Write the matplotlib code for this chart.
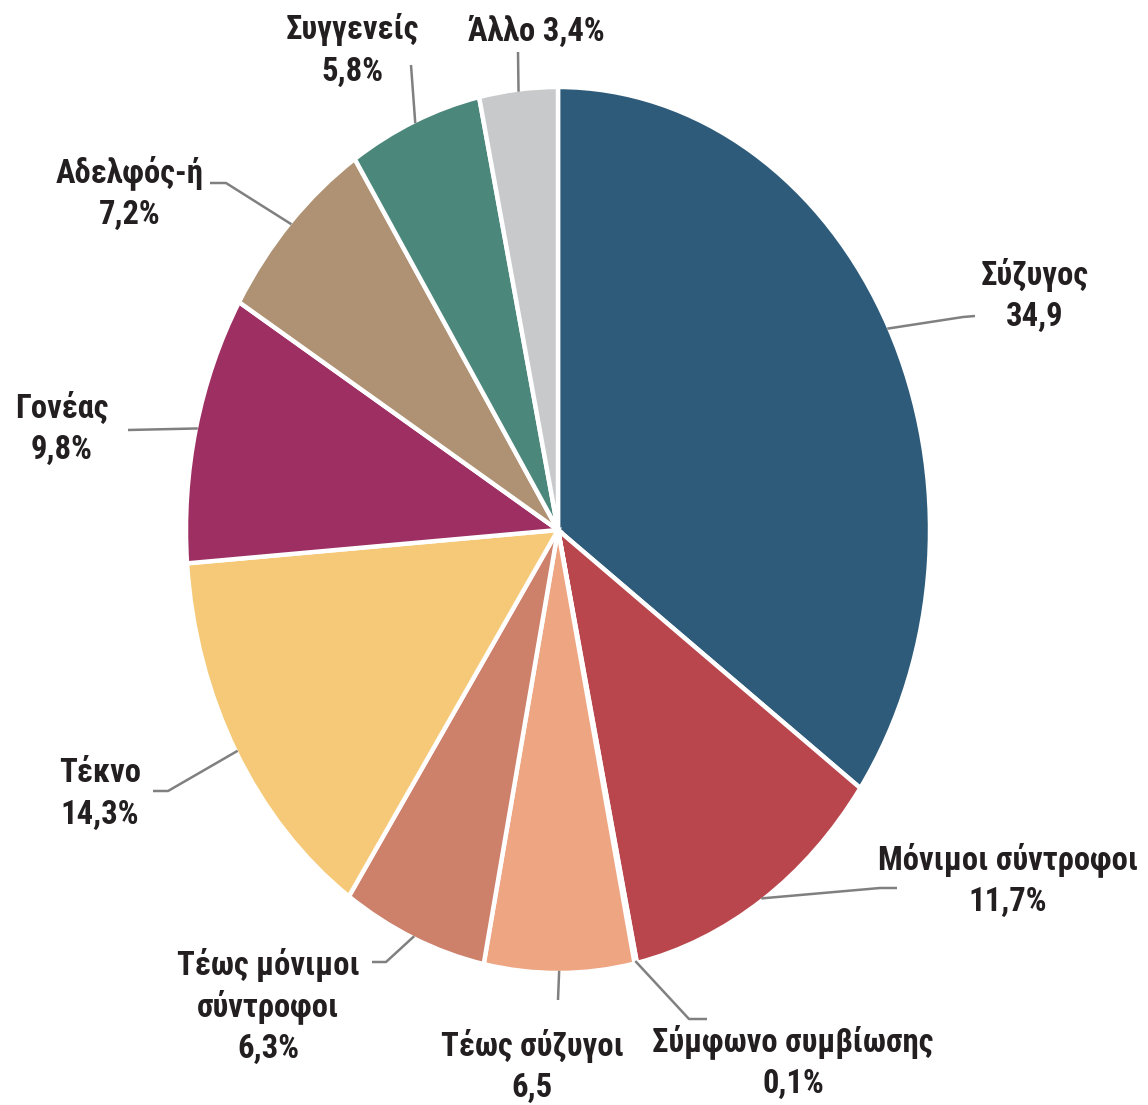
import numpy as np
import matplotlib
matplotlib.use("Agg")
import matplotlib.pyplot as plt

# ---- data ----
categories = ["Σύζυγος", "Μόνιμοι σύντροφοι", "Σύμφωνο συμβίωσης", "Τέως σύζυγοι",
              "Τέως μόνιμοι\nσύντροφοι", "Τέκνο", "Γονέας", "Αδελφός-ή", "Συγγενείς", "Άλλο"]
values = [34.9, 11.7, 0.1, 6.5, 6.3, 14.3, 9.8, 7.2, 5.8, 3.4]
value_labels = ["34,9", "11,7%", "0,1%", "6,5", "6,3%", "14,3%", "9,8%", "7,2%", "5,8%", "3,4%"]
colors = ["#2d5b79", "#b8464c", "#e8e8e8", "#eda582", "#cd806a",
          "#f5c977", "#9d2f62", "#ae9273", "#4b877b", "#c8c9cb"]

# ---- layout (pixels) ----
W, H = 1148, 1105
CX, CY, RX, RY = 558, 530, 372, 443
LINE_STEP = 42
# label centre x and centre y of first line
label_pos = [(1035, 275), (1008, 860), (793, 1042), (532, 1046), (268, 965),
             (100, 773), (62, 408), (130, 173), (352, 30), (536, 32)]
leader_pts = [[(963, 317), (975, 316)],
              [(880, 888), (897, 888)],
              [(689, 1019), (707, 1019)],
              [(558, 1000)],
              [(386, 962), (372, 962)],
              [(168, 791), (153, 791)],
              [(128, 430)],
              [(226, 183), (210, 183)],
              [(411, 65)],
              [(518, 52)]]
single_line = [False] * 9 + [True]

FONT = ["Roboto Condensed", "Roboto", "DejaVu Sans"]
TXT = "#231f20"
LINE = "#808080"

fig = plt.figure(figsize=(W / 100, H / 100), dpi=100)
ax = fig.add_axes([(CX - RX) / W, (H - CY - RY) / H, 2 * RX / W, 2 * RY / H])
wedges, _ = ax.pie(values, colors=colors, startangle=90, counterclock=False, radius=1,
                   wedgeprops=dict(edgecolor="white", linewidth=3.2))
ax.set_aspect("auto")
ax.set_xlim(-1, 1)
ax.set_ylim(-1, 1)
ax.axis("off")


def px2d(px, py):
    return (px - CX) / RX, (CY - py) / RY


for i, w in enumerate(wedges):
    mid = np.deg2rad((w.theta1 + w.theta2) / 2)
    xs = [np.cos(mid) * 0.995]
    ys = [np.sin(mid) * 0.995]
    for p in leader_pts[i]:
        dx, dy = px2d(*p)
        xs.append(dx)
        ys.append(dy)
    ax.plot(xs, ys, color=LINE, lw=1.8, clip_on=False, solid_capstyle="butt")

    lx, ly = label_pos[i]
    if single_line[i]:
        lines = [f"{categories[i]} {value_labels[i]}"]
    else:
        lines = categories[i].split("\n") + [value_labels[i]]
    for k, s in enumerate(lines):
        fig.text(lx / W, 1 - (ly + k * LINE_STEP) / H, s, ha="center", va="center",
                 fontsize=23.5, fontweight="bold", family=FONT, color=TXT)

fig.savefig("out.png", dpi=100, facecolor="white")
